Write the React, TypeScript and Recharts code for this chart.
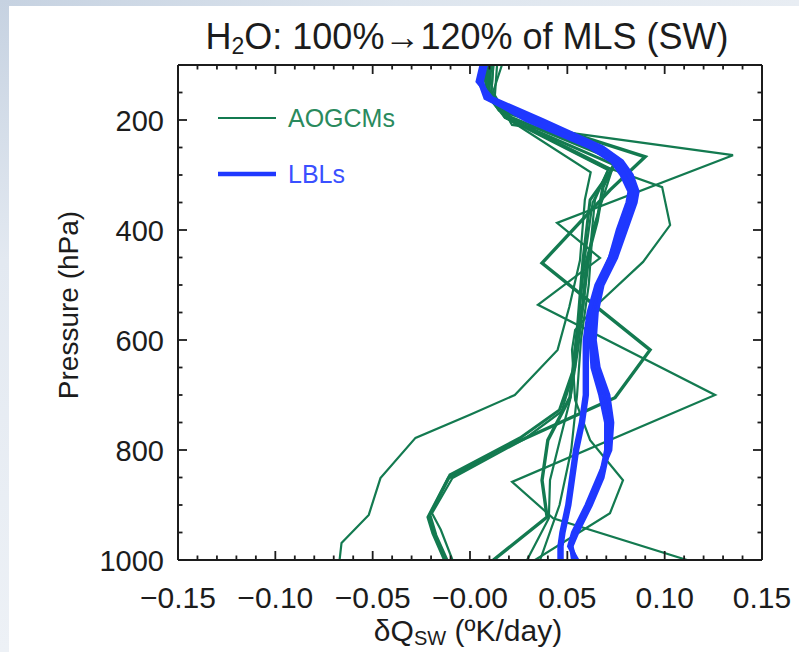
import React from "react";
import { LineChart, Line, XAxis, YAxis } from "recharts";

// AOGCM profiles: pressure levels (hPa) and heating-rate change (K/day)
const gcmAP = [100, 145, 195, 295, 345, 455, 540, 618, 700, 736, 778, 851, 918, 969, 1000];
const gcmAV = [0.011, 0.01, 0.018, 0.062, 0.059, 0.0565, 0.051, 0.045, 0.023, 0.0, -0.028, -0.046, -0.052, -0.066, -0.067];

const gcmBP = [100, 149, 182, 267, 327, 460, 618, 705, 800, 851, 922, 951, 1000];
const gcmBV = [0.01, 0.009, 0.015, 0.09, 0.072, 0.037, 0.0925, 0.0745, 0.015, -0.011, -0.0215, -0.019, -0.013];

const gcmCP = [100, 149, 195, 282, 345, 455, 564, 655, 727, 778, 845, 918, 955, 1000];
const gcmCV = [0.0087, 0.0098, 0.018, 0.0745, 0.0617, 0.058, 0.0555, 0.053, 0.046, 0.0257, -0.0103, -0.0206, -0.0175, -0.0118];

const gcmDP = [100, 150, 200, 290, 350, 450, 560, 650, 730, 780, 851, 915, 945, 1000];
const gcmDV = [0.012, 0.011, 0.021, 0.071, 0.063, 0.059, 0.056, 0.054, 0.047, 0.028, -0.009, -0.0195, -0.015, -0.009];

const gcmEP = [100, 155, 209, 264, 387, 451, 536, 700, 858, 924, 1000];
const gcmEV = [0.0139, 0.0128, 0.0216, 0.1351, 0.0447, 0.0668, 0.0349, 0.1259, 0.0216, 0.0427, 0.1115];

const gcmFP = [100, 155, 196, 282, 322, 391, 458, 536, 582, 618, 709, 782, 855, 915, 1000];
const gcmFV = [0.0164, 0.0113, 0.019, 0.0668, 0.0987, 0.1028, 0.0889, 0.0653, 0.054, 0.0524, 0.054, 0.0617, 0.0786, 0.0719, 0.0334];

const gcmGP = [100, 149, 191, 273, 322, 384, 455, 536, 618, 704, 782, 855, 922, 1000];
const gcmGV = [0.0077, 0.0092, 0.018, 0.075, 0.0683, 0.0653, 0.06, 0.058, 0.054, 0.0514, 0.04, 0.037, 0.0396, 0.012];

const gcmHP = [100, 155, 196, 291, 345, 436, 527, 618, 709, 782, 855, 924, 1000];
const gcmHV = [0.0067, 0.0087, 0.018, 0.0709, 0.0642, 0.0617, 0.0585, 0.0555, 0.0514, 0.0462, 0.0411, 0.0405, 0.0293];

const gcmIP = [100, 150, 200, 290, 400, 500, 600, 700, 800, 900, 1000];
const gcmIV = [0.012, 0.011, 0.022, 0.073, 0.063, 0.061, 0.057, 0.055, 0.052, 0.046, 0.036];

// LBL profiles share one set of levels
const lblP = [100, 130, 160, 200, 250, 275, 300, 330, 350, 400, 450, 500, 550, 600, 650, 700, 750, 800, 850, 900, 950, 975, 1000];
const lbl1V = [0.007, 0.005, 0.009, 0.033, 0.065, 0.0755, 0.08, 0.084, 0.083, 0.078, 0.073, 0.067, 0.064, 0.063, 0.064, 0.069, 0.072, 0.071, 0.068, 0.062, 0.055, 0.052, 0.054];
const lbl2V = [0.006, 0.004, 0.011, 0.037, 0.068, 0.078, 0.083, 0.086, 0.085, 0.08, 0.075, 0.068, 0.065, 0.064, 0.066, 0.071, 0.073, 0.072, 0.066, 0.06, 0.053, 0.051, 0.055];
const lbl3V = [0.008, 0.006, 0.009, 0.029, 0.062, 0.073, 0.078, 0.082, 0.081, 0.076, 0.072, 0.066, 0.063, 0.062, 0.063, 0.067, 0.07, 0.07, 0.067, 0.061, 0.054, 0.052, 0.053];
const lbl4V = [0.007, 0.005, 0.01, 0.035, 0.066, 0.076, 0.081, 0.085, 0.084, 0.079, 0.073, 0.066, 0.062, 0.06, 0.06, 0.06, 0.058, 0.055, 0.053, 0.051, 0.048, 0.047, 0.047];
const lbl5V = [0.008, 0.005, 0.008, 0.031, 0.063, 0.074, 0.079, 0.083, 0.082, 0.077, 0.072, 0.065, 0.061, 0.059, 0.059, 0.059, 0.057, 0.054, 0.052, 0.05, 0.047, 0.046, 0.046];

const xMajor = [-0.15, -0.1, -0.05, 0, 0.05, 0.1, 0.15];
const yMajor = [200, 400, 600, 800, 1000];

const GREEN = "#137a50";
const BLUE = "#1f38ff";
const INK = "#1c1c1c";
const FONT = "'Liberation Sans', Arial, Helvetica, sans-serif";

const zip = (ps: number[], vs: number[]) => ps.map((p, i) => ({ p, v: vs[i] }));

const gcms = [
  { data: zip(gcmAP, gcmAV), w: 2.2 },
  { data: zip(gcmBP, gcmBV), w: 3.4 },
  { data: zip(gcmCP, gcmCV), w: 3 },
  { data: zip(gcmDP, gcmDV), w: 2.2 },
  { data: zip(gcmEP, gcmEV), w: 2.2 },
  { data: zip(gcmFP, gcmFV), w: 2.2 },
  { data: zip(gcmGP, gcmGV), w: 3.4 },
  { data: zip(gcmHP, gcmHV), w: 2.2 },
  { data: zip(gcmIP, gcmIV), w: 2.2 },
];

const lbls = [lbl1V, lbl2V, lbl3V, lbl4V, lbl5V].map((vs) => zip(lblP, vs));

// minor ticks every 0.01 / 50 hPa
const xTicks = Array.from({ length: 31 }, (_, i) => (i - 15) / 100);
const yTicks = Array.from({ length: 19 }, (_, i) => 100 + i * 50);

const isXMajor = (v: number) => xMajor.some((m) => Math.abs(m - v) < 1e-6);
const isYMajor = (v: number) => yMajor.includes(v);

const fmtX = (v: number) => (v <= 0 ? "\u2212" + Math.abs(v).toFixed(2) : v.toFixed(2));

const MAJ = 9;
const MIN = 4.5;

function BottomTick({ x, y, payload }: any) {
  const major = isXMajor(payload.value);
  return (
    <g>
      <line x1={x} x2={x} y1={y} y2={y - (major ? MAJ : MIN)} stroke={INK} strokeWidth={1.8} />
      {major && (
        <text x={x} y={y + 48} textAnchor="middle" fontSize={30} fill={INK} fontFamily={FONT}>
          {fmtX(payload.value)}
        </text>
      )}
    </g>
  );
}

function TopTick({ x, y, payload }: any) {
  const major = isXMajor(payload.value);
  return <line x1={x} x2={x} y1={y} y2={y + (major ? MAJ : MIN)} stroke={INK} strokeWidth={1.8} />;
}

function LeftTick({ x, y, payload }: any) {
  const major = isYMajor(payload.value);
  return (
    <g>
      <line x1={x} x2={x + (major ? MAJ : MIN)} y1={y} y2={y} stroke={INK} strokeWidth={1.8} />
      {major && (
        <text x={x - 14} y={y + 11} textAnchor="end" fontSize={29} fill={INK} fontFamily={FONT}>
          {payload.value}
        </text>
      )}
    </g>
  );
}

function RightTick({ x, y, payload }: any) {
  const major = isYMajor(payload.value);
  return <line x1={x} x2={x - (major ? MAJ : MIN)} y1={y} y2={y} stroke={INK} strokeWidth={1.8} />;
}

export default function App() {
  return (
    <div style={{ position: "absolute", left: 0, top: 0, width: 799, height: 652, background: "#fff", overflow: "hidden", fontFamily: FONT, color: INK }}>
      <div style={{ position: "absolute", left: 0, top: 0, width: 799, height: 6, background: "linear-gradient(to right, #c6d2e1, #dde5ee 50%, #e8edf3)" }} />
      <div style={{ position: "absolute", left: 0, top: 0, width: 9, height: 652, background: "linear-gradient(to bottom, #c6d2e1, #e3e9f1 40%, #edf1f6)" }} />

      <div style={{ position: "absolute", left: 0, top: 0 }}>
        <LineChart width={799} height={652} margin={{ top: 60, right: 32, bottom: 32, left: 78 }}>
          <XAxis
            xAxisId="b"
            dataKey="v"
            type="number"
            domain={[-0.15, 0.15]}
            ticks={xTicks}
            interval={0}
            tick={<BottomTick />}
            tickSize={0}
            tickMargin={0}
            tickLine={false}
            axisLine={{ stroke: INK, strokeWidth: 2 }}
            height={60}
            allowDataOverflow
          />
          <XAxis
            xAxisId="t"
            orientation="top"
            dataKey="v"
            type="number"
            domain={[-0.15, 0.15]}
            ticks={xTicks}
            interval={0}
            tick={<TopTick />}
            tickSize={0}
            tickMargin={0}
            tickLine={false}
            axisLine={{ stroke: INK, strokeWidth: 2 }}
            height={5}
            allowDataOverflow
          />
          <YAxis
            yAxisId="l"
            type="number"
            domain={[100, 1000]}
            reversed
            ticks={yTicks}
            interval={0}
            tick={<LeftTick />}
            tickSize={0}
            tickMargin={0}
            tickLine={false}
            axisLine={{ stroke: INK, strokeWidth: 2 }}
            width={100}
            allowDataOverflow
          />
          <YAxis
            yAxisId="r"
            orientation="right"
            type="number"
            domain={[100, 1000]}
            reversed
            ticks={yTicks}
            interval={0}
            tick={<RightTick />}
            tickSize={0}
            tickMargin={0}
            tickLine={false}
            axisLine={{ stroke: INK, strokeWidth: 2 }}
            width={5}
            allowDataOverflow
          />
          {gcms.map((g, i) => (
            <Line
              key={"g" + i}
              xAxisId="b"
              yAxisId="l"
              data={g.data}
              dataKey="p"
              type="linear"
              stroke={GREEN}
              strokeWidth={g.w}
              strokeLinejoin="miter"
              dot={false}
              activeDot={false}
              isAnimationActive={false}
            />
          ))}
          {lbls.map((d, i) => (
            <Line
              key={"l" + i}
              xAxisId="b"
              yAxisId="l"
              data={d}
              dataKey="p"
              type="linear"
              stroke={BLUE}
              strokeWidth={4.5}
              dot={false}
              activeDot={false}
              isAnimationActive={false}
            />
          ))}
        </LineChart>
      </div>

      <div style={{ position: "absolute", left: 467, top: 38, transform: "translate(-50%, -50%)", whiteSpace: "nowrap", fontSize: 36 }}>
        H<sub style={{ fontSize: 23, verticalAlign: "-0.25em" }}>2</sub>O: 100%{"\u2192"}120% of MLS (SW)
      </div>

      <div style={{ position: "absolute", left: 69, top: 305, transform: "translate(-50%, -50%) rotate(-90deg)", whiteSpace: "nowrap", fontSize: 28 }}>
        Pressure (hPa)
      </div>

      <div style={{ position: "absolute", left: 468, top: 632, transform: "translate(-50%, -50%)", whiteSpace: "nowrap", fontSize: 30 }}>
        {"\u03B4"}Q<sub style={{ fontSize: 20, verticalAlign: "-0.2em" }}>SW</sub> ({"\u00BA"}K/day)
      </div>

      <div style={{ position: "absolute", left: 218, top: 100, fontSize: 25 }}>
        <div style={{ display: "flex", alignItems: "center", height: 36, color: "#2a8a5d" }}>
          <svg width={58} height={10} style={{ marginRight: 12 }}>
            <line x1={0} x2={58} y1={5} y2={5} stroke={GREEN} strokeWidth={2} />
          </svg>
          AOGCMs
        </div>
        <div style={{ display: "flex", alignItems: "center", height: 36, marginTop: 20, color: "#3a50ff" }}>
          <svg width={58} height={10} style={{ marginRight: 12 }}>
            <line x1={0} x2={58} y1={5} y2={5} stroke={BLUE} strokeWidth={4.5} />
          </svg>
          LBLs
        </div>
      </div>
    </div>
  );
}
